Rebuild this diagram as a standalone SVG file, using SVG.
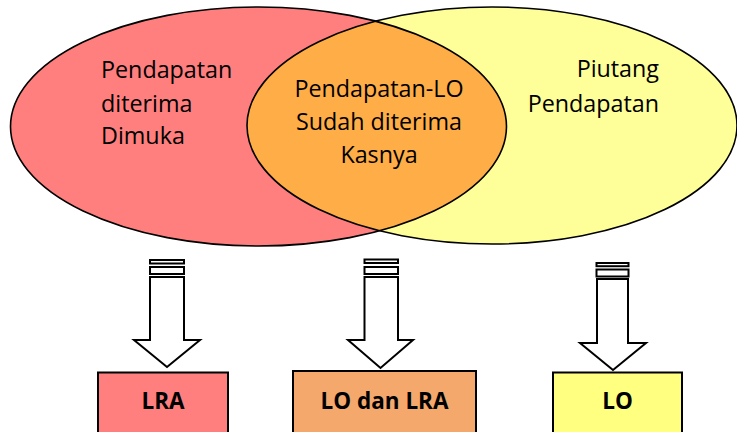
<svg xmlns="http://www.w3.org/2000/svg" width="737" height="432" viewBox="0 0 737 432">
<style>
.t{font-family:"Open Sans","Liberation Sans",sans-serif;font-size:23.3px;fill:#000}
.b{font-family:"Open Sans","Liberation Sans",sans-serif;font-size:22.5px;font-weight:bold;fill:#000}
.arr{fill:#fff;stroke:#000;stroke-width:2;stroke-linejoin:miter}
.box{stroke:#000;stroke-width:2}
.ol{fill:none;stroke:#000;stroke-width:1.6}
</style>
<defs>
<clipPath id="redClip"><ellipse cx="258.5" cy="126.5" rx="248" ry="119.5"/></clipPath>
</defs>
<rect width="737" height="432" fill="#fff"/>
<g id="venn">
<ellipse id="red" cx="258.5" cy="126.5" rx="248" ry="119.5" fill="#ff7f7f"/>
<ellipse id="yellow" cx="492" cy="125.5" rx="245" ry="118.5" fill="#ffff99"/>
<ellipse id="overlap" cx="492" cy="125.5" rx="245" ry="118.5" fill="#ffad47" clip-path="url(#redClip)"/>
<ellipse class="ol" cx="258.5" cy="126.5" rx="248" ry="119.5"/>
<ellipse class="ol" cx="492" cy="125.5" rx="245" ry="118.5"/>
</g>
<g id="label-left">
<text class="t" x="101" y="78">Pendapatan</text>
<text class="t" x="101" y="112">diterima</text>
<text class="t" x="101" y="144">Dimuka</text>
</g>
<g id="label-middle" text-anchor="middle">
<text class="t" x="379" y="97">Pendapatan-LO</text>
<text class="t" x="379" y="130">Sudah diterima</text>
<text class="t" x="379" y="163">Kasnya</text>
</g>
<g id="label-right" text-anchor="end">
<text class="t" x="659" y="77">Piutang</text>
<text class="t" x="659" y="112">Pendapatan</text>
</g>
<g id="connectors">
<g id="arrow-left">
<rect class="arr" x="150" y="260" width="34" height="3.5"/>
<rect class="arr" x="150" y="267" width="34" height="7"/>
<path class="arr" d="M150,277 H184 V340 H200 L167,367 L134,340 H150 Z"/>
</g>
<g id="arrow-middle">
<rect class="arr" x="364.5" y="259.5" width="33.5" height="3.5"/>
<rect class="arr" x="364.5" y="267" width="33.5" height="7"/>
<path class="arr" d="M364.5,277 H398 V340 H413 L380.5,368 L348,340 H364.5 Z"/>
</g>
<g id="arrow-right">
<rect class="arr" x="596.5" y="263" width="32" height="3.2"/>
<rect class="arr" x="596.5" y="269.5" width="32" height="7"/>
<path class="arr" d="M597,279 H628 V343 H646 L613,370 L580,343 H597 Z"/>
</g>
</g>
<g id="box-lra">
<rect class="box" x="98" y="372.5" width="130" height="70" fill="#ff7f7f"/>
<text class="b" x="163" y="409" text-anchor="middle">LRA</text>
</g>
<g id="box-lo-lra">
<rect class="box" x="293" y="371" width="183" height="72" fill="#f5a86c"/>
<text class="b" x="384.5" y="409" text-anchor="middle">LO dan LRA</text>
</g>
<g id="box-lo">
<rect class="box" x="553" y="372.5" width="129" height="70" fill="#ffff80"/>
<text class="b" x="617.5" y="409" text-anchor="middle">LO</text>
</g>
</svg>
